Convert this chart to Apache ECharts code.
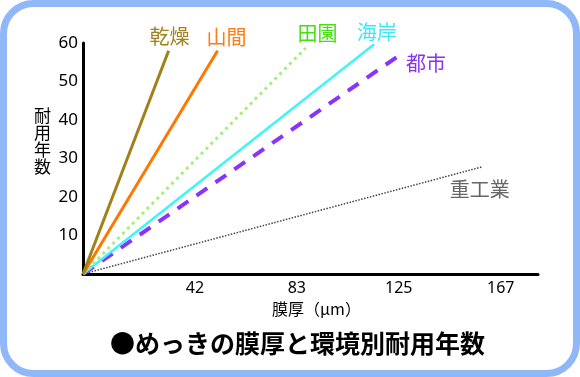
<!DOCTYPE html>
<html>
<head>
<meta charset="utf-8">
<script src="https://cdn.jsdelivr.net/npm/echarts@6/dist/echarts.min.js"></script>
<style>
html,body{margin:0;padding:0;background:#fff;}
#c{width:580px;height:377px;}
</style>
</head>
<body>
<div id="c"></div>
<script>
// Data
const seriesNames = ['乾燥', '山間', '田園', '海岸', '都市', '重工業'];
const startThickness = [0, 0, 0, 0, 0, 0];
const startYears = [0, 0, 0, 0, 0, 0];
const endThickness = [35, 55, 91, 119, 130, 163];
const endYears = [58, 58, 58.7, 59.7, 57.1, 27.8];
const xTickLabels = ['42', '83', '125', '167'];
const yTickLabels = ['10', '20', '30', '40', '50', '60'];
const titleText = '●めっきの膜厚と環境別耐用年数';
const xName = '膜厚（μm）';
const yName = '耐用年数';

const styles = [
  {color: '#a08018', label: '#a08018', width: 3, type: 'solid', off: [1, -14]},
  {color: '#ff7700', label: '#ff7a10', width: 3, type: 'solid', off: [9, -13]},
  {color: '#a6f07a', label: '#44e010', width: 3, type: [3, 4], off: [12, -14.5]},
  {color: '#3ff5f5', label: '#3ee8f8', width: 2.5, type: 'solid', off: [3, -12]},
  {color: '#8833ff', label: '#8a33ee', width: 4, type: [13, 10], off: [25, 9]},
  {color: '#444444', label: '#666666', width: 1.5, type: [1.5, 1.5], off: [-2, 22]}
];

const chart = echarts.init(document.getElementById('c'), null, {renderer: 'canvas'});
const tickStep = 125 / 3;
const cjk = '"Noto Sans CJK JP", "Noto Sans", sans-serif';
const num = '"Noto Sans", "Open Sans", sans-serif';

chart.setOption({
  animation: false,
  backgroundColor: '#ffffff',
  graphic: [{
    type: 'rect', z: -10, silent: true,
    shape: {x: 3.5, y: 3.5, width: 573, height: 370, r: 30},
    style: {fill: '#ffffff', stroke: '#90b8f8', lineWidth: 7}
  }],
  title: {
    text: titleText, left: 110, top: 331,
    padding: 0,
    textStyle: {fontFamily: cjk, fontWeight: 'bold', fontSize: 25, color: '#000'}
  },
  grid: {left: 83, right: 42, top: 43, bottom: 103, containLabel: false},
  xAxis: {
    type: 'value', min: 0, max: 186, interval: tickStep,
    name: xName, nameLocation: 'middle', nameGap: 26,
    nameTextStyle: {fontFamily: cjk, fontSize: 16, color: '#000', padding: [0, 0, 0, 12]},
    axisLine: {lineStyle: {color: '#000', width: 3}},
    axisTick: {show: false}, splitLine: {show: false},
    axisLabel: {
      showMinLabel: false, showMaxLabel: false, margin: 6,
      padding: [0, 0, 0, 20],
      fontFamily: num, fontSize: 16, color: '#000',
      formatter: v => { const i = Math.round(v / tickStep) - 1; return (i >= 0 && i < xTickLabels.length && Math.abs(v - (i + 1) * tickStep) < 0.01) ? xTickLabels[i] : ''; }
    }
  },
  yAxis: {
    type: 'value', min: 0, max: 60, interval: 10,
    name: yName.split('').join('\n') + '\n\n', nameLocation: 'middle', nameGap: 32, nameRotate: 0,
    nameTextStyle: {fontFamily: cjk, fontSize: 17, lineHeight: 17, color: '#000'},
    axisLine: {show: true, lineStyle: {color: '#000', width: 3}},
    axisTick: {show: false}, splitLine: {show: false},
    axisLabel: {
      showMinLabel: false, margin: 5,
      fontFamily: num, fontSize: 17, color: '#000',
      formatter: v => { const i = Math.round(v / 10) - 1; return (i >= 0 && i < yTickLabels.length) ? yTickLabels[i] : ''; }
    }
  },
  series: seriesNames.map((n, i) => ({
    name: n, type: 'line', showSymbol: false, silent: true,
    data: [[startThickness[i], startYears[i]], [endThickness[i], endYears[i]]],
    lineStyle: {color: styles[i].color, width: styles[i].width, type: styles[i].type, cap: 'butt'},
    itemStyle: {color: styles[i].color},
    endLabel: {
      show: true, formatter: '{a}', distance: 0, align: 'center', verticalAlign: 'middle',
      offset: styles[i].off, color: styles[i].label,
      fontFamily: cjk, fontSize: 20
    },
    z: 10 - i
  }))
});
</script>
</body>
</html>
